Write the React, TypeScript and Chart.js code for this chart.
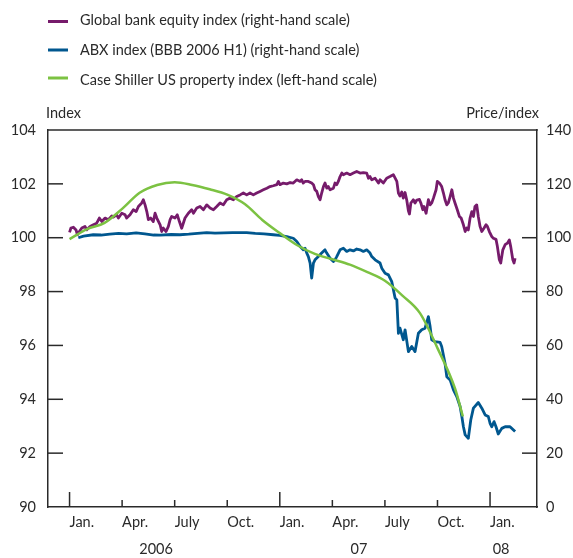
import React, { useEffect, useRef } from 'react';
import { Chart, registerables } from 'chart.js';

Chart.register(...registerables);

// x values are months since January 2006 (0 = Jan. 2006, 12 = Jan. 2007, 24 = Jan. 2008)
const legendLabels = [
  'Global bank equity index (right-hand scale)',
  'ABX index (BBB 2006 H1) (right-hand scale)',
  'Case Shiller US property index (left-hand scale)',
];

const xTickValues = [0, 3, 6, 9, 12, 15, 18, 21, 24];
const xTickLabels = ['Jan.', 'Apr.', 'July', 'Oct.', 'Jan.', 'Apr.', 'July', 'Oct.', 'Jan.'];
const yearLabels = ['2006', '07', '08'];
const yearLabelMonths = [4.94, 16.52, 24.63];

const leftInnerTicks = [92, 94, 96, 98, 100, 102];
const rightInnerTicks = [20, 40, 60, 80, 100, 120];

const bankEquity: [number, number][] = [
  [0.0, 102.0], [0.08, 103.6], [0.22, 103.9], [0.37, 102.9], [0.45, 101.1], [0.56, 102.3], [0.7, 103.6],
  [0.88, 104.2], [0.98, 102.9], [1.17, 104.2], [1.36, 104.8], [1.55, 105.4], [1.7, 107.3], [1.84, 106.0],
  [2.03, 107.3], [2.21, 106.7], [2.41, 108.1], [2.5, 107.7], [2.69, 108.5], [2.79, 107.3], [2.98, 109.1],
  [3.17, 108.5], [3.26, 107.3], [3.45, 108.5], [3.64, 110.4], [3.8, 109.7], [3.93, 111.6], [4.12, 112.9],
  [4.21, 114.1], [4.31, 112.2], [4.41, 109.7], [4.5, 106.7], [4.63, 107.3], [4.78, 106.0], [4.88, 109.1],
  [4.98, 107.3], [5.17, 104.8], [5.26, 102.3], [5.35, 103.6], [5.51, 102.3], [5.64, 104.2], [5.74, 106.7],
  [5.83, 107.9], [6.02, 107.3], [6.15, 108.5], [6.27, 106.0], [6.4, 103.5], [6.59, 107.3], [6.78, 109.1],
  [6.97, 110.4], [7.07, 109.1], [7.26, 111.0], [7.45, 111.6], [7.64, 110.4], [7.83, 112.2], [8.02, 111.0],
  [8.21, 110.4], [8.4, 111.6], [8.59, 112.9], [8.78, 112.2], [8.97, 114.1], [9.16, 114.7], [9.35, 114.1],
  [9.54, 115.3], [9.73, 115.9], [9.92, 116.6], [10.11, 115.9], [10.3, 116.6], [10.49, 115.9], [10.68, 116.6],
  [10.87, 117.2], [11.06, 117.8], [11.26, 118.4], [11.44, 119.0], [11.63, 119.3], [11.83, 119.7], [11.92, 120.9],
  [12.01, 119.7], [12.2, 120.3], [12.4, 120.0], [12.59, 120.5], [12.77, 120.3], [12.97, 121.5], [13.16, 120.9],
  [13.25, 121.5], [13.34, 120.3], [13.44, 120.9], [13.63, 120.9], [13.82, 120.3], [13.92, 119.7], [14.01, 117.8],
  [14.11, 117.2], [14.2, 115.3], [14.3, 114.1], [14.39, 116.6], [14.49, 119.0], [14.58, 120.3], [14.68, 118.4],
  [14.77, 119.0], [14.87, 117.8], [15.06, 118.4], [15.15, 120.3], [15.25, 119.7], [15.34, 120.9], [15.44, 122.7],
  [15.54, 124.0], [15.63, 123.4], [15.82, 124.0], [16.01, 123.4], [16.2, 124.0], [16.39, 124.6], [16.58, 124.0],
  [16.77, 124.2], [16.96, 124.0], [17.06, 122.1], [17.15, 122.7], [17.25, 121.5], [17.44, 122.1], [17.63, 120.3],
  [17.72, 121.5], [17.91, 120.3], [18.1, 122.1], [18.29, 122.7], [18.48, 123.4], [18.68, 120.9], [18.77, 116.6],
  [18.86, 115.5], [18.96, 117.0], [19.05, 114.7], [19.15, 116.8], [19.25, 113.8], [19.34, 110.0], [19.4, 108.8],
  [19.48, 112.9], [19.62, 114.1], [19.72, 112.9], [19.82, 114.0], [19.97, 114.2], [20.05, 112.9], [20.16, 110.4],
  [20.23, 111.6], [20.35, 109.1], [20.48, 114.1], [20.58, 112.2], [20.67, 112.9], [20.77, 114.7], [20.92, 117.8],
  [20.99, 120.9], [21.11, 120.3], [21.24, 119.0], [21.34, 116.6], [21.43, 114.1], [21.53, 112.2], [21.62, 112.9],
  [21.72, 115.3], [21.82, 117.8], [21.91, 114.7], [22.0, 112.9], [22.13, 110.4], [22.25, 107.9], [22.35, 107.3],
  [22.48, 104.8], [22.58, 102.3], [22.67, 103.6], [22.76, 102.9], [22.86, 107.3], [22.96, 109.7], [23.05, 107.9],
  [23.14, 111.6], [23.24, 112.2], [23.33, 107.9], [23.43, 104.2], [23.53, 102.3], [23.66, 103.6], [23.77, 104.8],
  [23.85, 104.2], [23.96, 102.3], [24.1, 100.4], [24.19, 99.8], [24.34, 99.4], [24.42, 96.7], [24.53, 91.8],
  [24.61, 90.6], [24.73, 95.5], [24.86, 97.4], [24.99, 98.0], [25.1, 99.2], [25.18, 96.7], [25.3, 91.8],
  [25.37, 90.6], [25.43, 92.4],
];

const abxIndex: [number, number][] = [
  [0.5, 100.0], [0.8, 100.6], [1.35, 101.1], [1.8, 101.0], [2.3, 101.3], [2.8, 101.6], [3.26, 101.45],
  [3.8, 101.8], [4.3, 101.4], [4.8, 101.0], [5.16, 100.97], [5.8, 101.2], [6.3, 101.1], [6.8, 101.3],
  [7.3, 101.6], [7.83, 101.9], [8.3, 101.7], [8.8, 101.8], [9.3, 101.9], [10.11, 101.9], [10.6, 101.6],
  [11.1, 101.4], [11.63, 101.1], [12.0, 100.9], [12.4, 100.4], [12.77, 99.8], [12.97, 98.6], [13.16, 96.7],
  [13.34, 95.5], [13.44, 96.1], [13.54, 94.3], [13.63, 93.0], [13.73, 90.6], [13.82, 85.0], [13.92, 90.6],
  [14.01, 91.8], [14.2, 93.0], [14.39, 94.3], [14.58, 95.5], [14.68, 94.3], [14.87, 92.4], [15.06, 91.2],
  [15.15, 91.8], [15.25, 93.0], [15.44, 95.5], [15.63, 96.1], [15.82, 94.9], [16.01, 95.5], [16.2, 95.1],
  [16.39, 95.8], [16.58, 95.5], [16.77, 94.9], [16.96, 95.5], [17.15, 94.3], [17.25, 93.0], [17.44, 91.8],
  [17.72, 90.6], [17.82, 88.7], [18.01, 86.8], [18.2, 86.2], [18.39, 83.7], [18.58, 77.6], [18.68, 76.9],
  [18.77, 64.5], [18.86, 66.4], [19.05, 62.1], [19.15, 65.8], [19.34, 57.7], [19.53, 59.6], [19.72, 57.7],
  [19.91, 64.5], [20.1, 65.8], [20.29, 66.4], [20.48, 70.7], [20.58, 67.0], [20.67, 62.1], [20.86, 61.4],
  [21.15, 61.1], [21.24, 59.6], [21.43, 53.4], [21.53, 48.4], [21.72, 47.2], [21.91, 43.5], [22.1, 41.0],
  [22.29, 37.3], [22.39, 33.6], [22.48, 29.8], [22.58, 26.8], [22.76, 25.5], [22.9, 32.3], [23.05, 36.7],
  [23.33, 38.8], [23.53, 36.7], [23.72, 34.2], [23.9, 33.6], [24.0, 31.1], [24.1, 29.8], [24.23, 31.7],
  [24.34, 29.8], [24.47, 27.1], [24.67, 29.2], [24.86, 29.8], [25.14, 29.8], [25.43, 28.0],
];

const caseShiller: [number, number][] = [
  [0, 99.95], [1, 100.32], [2, 100.55], [3, 101.07], [4, 101.67], [5, 101.96], [6, 102.06], [7, 101.96],
  [8, 101.8], [9, 101.6], [10, 101.25], [11, 100.66], [12, 100.17], [13, 99.72], [14, 99.4], [15, 99.2],
  [16, 99.0], [17, 98.72], [18, 98.4], [19, 97.85], [20, 97.2], [21, 95.9], [22, 94.4], [22.45, 93.36],
];

const FONT = 'Lato, "Noto Sans", sans-serif';
const FONT_SIZE = 14.5;
const TEXT = '#2a2a2a';
const AXIS = '#2a2a2a';
const PURPLE = '#761b6b';
const BLUE = '#00578f';
const GREEN = '#7cc242';
const seriesColors = [PURPLE, BLUE, GREEN];

const decorPlugin = {
  id: 'decor',
  afterDraw(chart: any) {
    const { ctx, chartArea: a, scales } = chart;
    const line = (x1: number, y1: number, x2: number, y2: number) => {
      ctx.beginPath();
      ctx.moveTo(x1, y1);
      ctx.lineTo(x2, y2);
      ctx.stroke();
    };
    ctx.save();
    ctx.strokeStyle = AXIS;
    ctx.lineWidth = 1.5;
    line(a.left - 0.75, a.top, a.right + 0.75, a.top);
    xTickValues.forEach((v) => {
      const px = scales.x.getPixelForValue(v);
      const len = v % 12 === 0 ? 15 : 7;
      line(px, a.bottom, px, a.bottom - len);
    });
    leftInnerTicks.forEach((v) => {
      const py = scales.yL.getPixelForValue(v);
      line(a.left, py, a.left + 15, py);
    });
    rightInnerTicks.forEach((v) => {
      const py = scales.yR.getPixelForValue(v);
      line(a.right - 15, py, a.right, py);
    });

    ctx.fillStyle = TEXT;
    ctx.font = `${FONT_SIZE}px ${FONT}`;
    ctx.textBaseline = 'alphabetic';
    ctx.textAlign = 'left';
    ctx.fillText('Index', 46, 118);
    ctx.textAlign = 'right';
    ctx.fillText('Price/index', 539, 118);

    ctx.textAlign = 'center';
    ctx.textBaseline = 'middle';
    yearLabels.forEach((lab, i) => {
      ctx.fillText(lab, scales.x.getPixelForValue(yearLabelMonths[i]), 549);
    });

    const markerY = [21.5, 50, 78];
    const textY = [20, 50, 80];
    legendLabels.forEach((lab, i) => {
      ctx.strokeStyle = seriesColors[i];
      ctx.lineWidth = 3;
      line(48, markerY[i], 68, markerY[i]);
      ctx.fillStyle = TEXT;
      ctx.textAlign = 'left';
      ctx.textBaseline = 'middle';
      ctx.fillText(lab, 80, textY[i]);
    });
    ctx.restore();
  },
};

export default function App() {
  const ref = useRef<HTMLCanvasElement | null>(null);

  useEffect(() => {
    if (!ref.current) return;
    Chart.defaults.font.family = FONT;
    Chart.defaults.font.size = FONT_SIZE;
    Chart.defaults.color = TEXT;
    const toXY = (arr: [number, number][]) => arr.map(([x, y]) => ({ x, y }));
    const chart = new Chart(ref.current, {
      type: 'line',
      data: {
        datasets: [
          {
            label: legendLabels[2],
            data: toXY(caseShiller),
            yAxisID: 'yL',
            borderColor: GREEN,
            borderWidth: 2.5,
            pointRadius: 0,
            cubicInterpolationMode: 'monotone',
            order: 0,
          },
          {
            label: legendLabels[1],
            data: toXY(abxIndex),
            yAxisID: 'yR',
            borderColor: BLUE,
            borderWidth: 2.8,
            pointRadius: 0,
            tension: 0,
            borderJoinStyle: 'round',
            order: 1,
          },
          {
            label: legendLabels[0],
            data: toXY(bankEquity),
            yAxisID: 'yR',
            borderColor: PURPLE,
            borderWidth: 2.8,
            pointRadius: 0,
            tension: 0,
            borderJoinStyle: 'round',
            order: 2,
          },
        ],
      },
      options: {
        animation: false,
        responsive: false,
        events: [],
        layout: { padding: { top: 130, left: 0, right: 0, bottom: 0 } },
        plugins: { legend: { display: false }, tooltip: { enabled: false } },
        scales: {
          x: {
            type: 'linear',
            min: -1.23,
            max: 26.68,
            afterBuildTicks: (s: any) => {
              s.ticks = xTickValues.map((v) => ({ value: v }));
            },
            afterFit: (s: any) => {
              s.height = 51;
            },
            ticks: {
              align: 'start',
              padding: 7,
              maxRotation: 0,
              autoSkip: false,
              font: { size: FONT_SIZE, family: FONT },
              color: TEXT,
              callback: (v: any) => {
                const i = xTickValues.indexOf(Number(v));
                return i >= 0 ? xTickLabels[i] : '';
              },
            },
            grid: { display: false, drawTicks: false },
            border: { display: true, color: AXIS, width: 1.5 },
          },
          yL: {
            type: 'linear',
            position: 'left',
            min: 90,
            max: 104,
            afterFit: (s: any) => {
              s.width = 48;
            },
            ticks: { stepSize: 2, padding: 12, font: { size: FONT_SIZE, family: FONT }, color: TEXT },
            grid: { display: false, drawTicks: false },
            border: { display: true, color: AXIS, width: 1.5 },
          },
          yR: {
            type: 'linear',
            position: 'right',
            min: 0,
            max: 140,
            afterFit: (s: any) => {
              s.width = 36;
            },
            ticks: { stepSize: 20, padding: 9, font: { size: FONT_SIZE, family: FONT }, color: TEXT },
            grid: { display: false, drawTicks: false },
            border: { display: true, color: AXIS, width: 1.5 },
          },
        },
      } as any,
      plugins: [decorPlugin],
    });
    return () => chart.destroy();
  }, []);

  return (
    <div style={{ position: 'absolute', left: 0, top: 0, width: 573, height: 558, background: '#fff' }}>
      <canvas ref={ref} width={573} height={558} style={{ width: 573, height: 558, display: 'block' }} />
    </div>
  );
}
